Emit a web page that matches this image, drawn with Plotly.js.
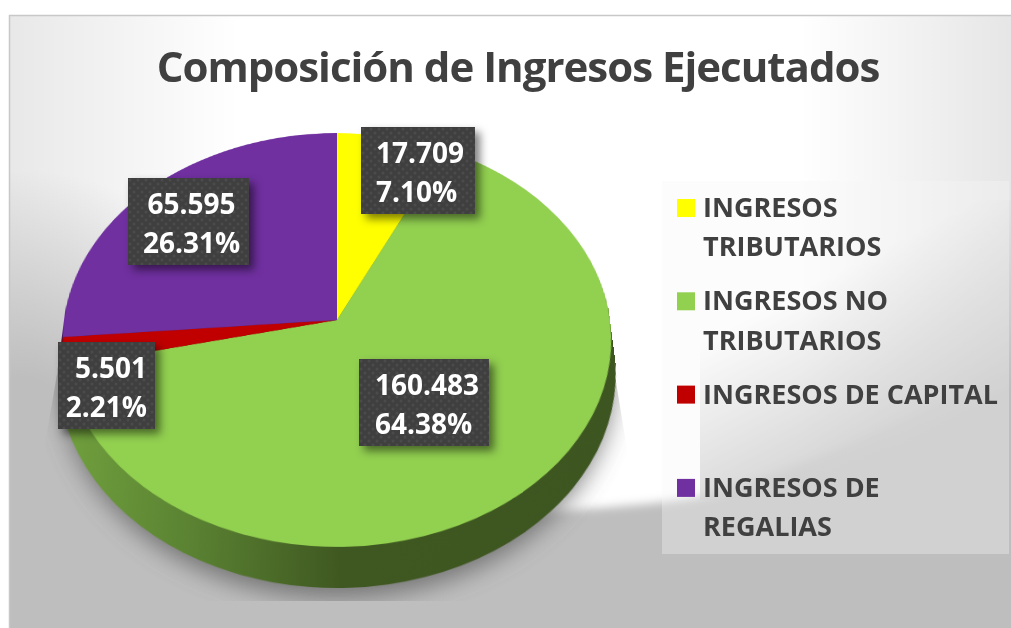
<!DOCTYPE html>
<html>
<head>
<meta charset="utf-8">
<script src="https://cdn.plot.ly/plotly-3.0.1.min.js"></script>
<style>
html,body{margin:0;padding:0;width:1011px;height:628px;overflow:hidden;background:#fff}
#stage{position:relative;width:1011px;height:628px;overflow:hidden}
#bg,#pie3d{position:absolute;left:0;top:0}
#chart{position:absolute;left:0;top:0;width:1011px;height:628px}
.annotation{filter:drop-shadow(5px 5px 4px rgba(0,0,0,.5))}
.gtitle{letter-spacing:-1px}
</style>
</head>
<body>
<div id="stage">
<svg id="bg" width="1011" height="628">
  <defs>
    <filter id="b6" x="-20%" y="-20%" width="140%" height="140%"><feGaussianBlur stdDeviation="5"/></filter>
    <filter id="b10" x="-20%" y="-20%" width="140%" height="140%"><feGaussianBlur stdDeviation="12"/></filter>
    <clipPath id="frame"><rect x="10" y="16" width="1001" height="612"/></clipPath>
    <clipPath id="shadowClip"><polygon points="62,345 44,450 44,601 632,601 632,480 610,345"/></clipPath>
    <linearGradient id="leftG" x1="0" x2="1" y1="0" y2="0">
      <stop offset="0" stop-color="#e8e8e8"/><stop offset="1" stop-color="#e8e8e8" stop-opacity="0"/>
    </linearGradient>
    <radialGradient id="leftR" gradientUnits="userSpaceOnUse" cx="20" cy="430" r="260">
      <stop offset="0.2" stop-color="#bebebe"/><stop offset="1" stop-color="#bebebe" stop-opacity="0"/>
    </radialGradient>
    <linearGradient id="rightH" gradientUnits="userSpaceOnUse" x1="800" y1="0" x2="1011" y2="0">
      <stop offset="0" stop-color="#e6e6e6" stop-opacity="0"/><stop offset="1" stop-color="#e6e6e6"/>
    </linearGradient>
    <linearGradient id="rightG" gradientUnits="userSpaceOnUse" x1="880" y1="250" x2="965" y2="415">
      <stop offset="0" stop-color="#bebebe" stop-opacity="0"/><stop offset="1" stop-color="#bebebe"/>
    </linearGradient>
    <linearGradient id="rim" x1="0" x2="1" y1="0" y2="0">
      <stop offset="0" stop-color="#72a23e"/><stop offset="0.25" stop-color="#5a8232"/><stop offset="0.5" stop-color="#3f5821"/><stop offset="1" stop-color="#3d5520"/>
    </linearGradient>
    <pattern id="dots" patternUnits="userSpaceOnUse" width="8" height="8">
      <rect width="8" height="8" fill="#3f3f3f"/>
      <circle cx="2" cy="2" r="1.5" fill="#4b4b4b"/><circle cx="6" cy="6" r="1.5" fill="#4b4b4b"/>
    </pattern>
  </defs>
  <g clip-path="url(#frame)">
    <rect x="9" y="15" width="1002" height="613" fill="#bebebe"/>
    <path d="M-60,-60 H1100 V300 C980,390 860,450 720,492 C680,502 620,507 540,512 L200,500 L100,440 L-30,400 Z" fill="#fff" filter="url(#b6)"/>
    <rect x="9" y="15" width="230" height="420" fill="url(#leftG)"/>
    <rect x="9" y="170" width="270" height="300" fill="url(#leftR)"/>
    <rect x="800" y="15" width="211" height="470" fill="url(#rightH)"/>
    <rect x="700" y="200" width="311" height="300" fill="url(#rightG)"/>
    <g clip-path="url(#shadowClip)">
      <ellipse cx="337" cy="376" rx="278" ry="222" fill="#555" opacity="0.7" filter="url(#b10)"/>
    </g>
  </g>
  <rect x="9.5" y="15.5" width="1003" height="620" fill="none" stroke="#c8c8c8" stroke-width="1.5"/>
</svg>
<div id="chart"></div>
</div>
<script>
var chartTitle = "Composición de Ingresos Ejecutados";
var categories = ["INGRESOS<br>TRIBUTARIOS", "INGRESOS NO<br>TRIBUTARIOS", "INGRESOS DE CAPITAL", "INGRESOS DE<br>REGALIAS"];
var values = [17.709, 160.483, 5.501, 65.595];
var colors = ["#ffff00", "#92d050", "#c00000", "#7030a0"];
var rimColors = ["#8f8f00", "#3f5821", "#6e0000", "#3e1a5a"];
var labelAlign = ["left", "left", "right", "center"];

var W = 1011, H = 628;
var cx = 337, cy = 290, R = 273, layers = 22, step = 2;
var total = values.reduce(function (a, b) { return a + b; }, 0);

function pieTrace(dy, cols, legend) {
  return {
    type: "pie", values: values, labels: categories, sort: false, direction: "clockwise", rotation: 0,
    textinfo: "none", hoverinfo: "label+value+percent", showlegend: legend,
    marker: { colors: cols, line: { width: 0 } },
    domain: { x: [(cx - R) / W, (cx + R) / W], y: [1 - (cy + dy + R) / H, 1 - (cy + dy - R) / H] }
  };
}
var traces = [];
for (var i = layers; i >= 1; i--) traces.push(pieTrace(i * step, rimColors, false));
traces.push(pieTrace(0, colors, true));

var boxes = [[361, 127, 114, 87, 15], [359, 359, 130, 87, 16], [58, 342, 97, 87, -8], [128, 178, 121, 87, 3]];
var annotations = values.map(function (v, i) {
  var b = boxes[i];
  return {
    xref: "paper", yref: "paper", x: b[0] / W, y: 1 - b[1] / H, xanchor: "left", yanchor: "top",
    width: b[2], height: b[3], borderpad: 0, borderwidth: 0, showarrow: false, align: labelAlign[i], valign: "middle",
    bgcolor: "#3f3f3f",
    text: v.toFixed(3) + "<br>" + (v / total * 100).toFixed(2) + "%",
    font: { family: "Open Sans", size: 28, color: "#ffffff", weight: 700 }
  };
});

var layout = {
  width: W, height: H, margin: { l: 0, r: 0, t: 0, b: 0 },
  paper_bgcolor: "rgba(0,0,0,0)", plot_bgcolor: "rgba(0,0,0,0)",
  title: { text: chartTitle, x: 518 / W, xanchor: "center", y: 1 - 67 / H, yanchor: "middle",
           font: { family: "Open Sans", size: 42, color: "#404040", weight: 700 } },
  legend: { x: 662 / W, y: 1 - 181 / H, xanchor: "left", yanchor: "top", bgcolor: "rgba(0,0,0,0)", borderwidth: 0,
            font: { family: "Open Sans", size: 27, color: "#404040", weight: 700 } },
  annotations: annotations,
  shapes: [{ type: "rect", xref: "paper", yref: "paper", x0: 662 / W, x1: 1009 / W, y0: 1 - 181 / H, y1: 1 - 554 / H,
             fillcolor: "rgba(245,245,245,0.35)", line: { width: 0 }, layer: "below" }]
};

Plotly.newPlot("chart", traces, layout, { displayModeBar: false, responsive: false }).then(function () {
  var gd = document.getElementById("chart");
  // tilt the pie layer with a true perspective projection, as the reference's 3-D pie
  var ns = "http://www.w3.org/2000/svg";
  var tilted = document.createElementNS(ns, "svg");
  tilted.setAttribute("id", "pie3d");
  tilted.setAttribute("width", W); tilted.setAttribute("height", H);
  tilted.style.overflow = "visible";
  tilted.style.transformOrigin = cx + "px " + cy + "px";
  tilted.style.transform = "translateY(30px) perspective(1868px) rotateX(41.35deg)";
  var pl = gd.querySelector(".pielayer");
  tilted.appendChild(pl);
  var sc = gd.querySelector(".svg-container");
  sc.insertBefore(tilted, sc.firstChild);
  var traceGroups = pl.querySelectorAll("g.trace");
  traceGroups.forEach(function (t, k) {
    if (k < traceGroups.length - 1) {
      var sl = t.querySelectorAll("g.slice path.surface");
      if (sl[1]) sl[1].style.fill = "url(#rim)";
    }
  });
  // value boxes: dotted fill, inner offsets and reference line pitch
  gd.querySelectorAll(".annotation").forEach(function (a, i) {
    var r = a.querySelector("rect.bg"); if (r) r.style.fill = "url(#dots)";
    var t = a.querySelector("text.annotation-text");
    if (t) {
      t.setAttribute("transform", "translate(" + boxes[i][4] + ",-0.5)");
      var ls = t.querySelectorAll("tspan.line");
      if (ls[1]) ls[1].setAttribute("dy", "39px");
    }
  });
  // legend: reference spacing
  var pitch = 39.3, itemGap = 93.3, firstLine = 27, symX = 24, baseline = 9, textX = 41;
  var leg = gd.querySelector(".legend");
  leg.querySelectorAll("[clip-path]").forEach(function (n) { n.removeAttribute("clip-path"); });
  leg.querySelectorAll(".traces").forEach(function (g, i) {
    g.setAttribute("transform", "translate(0," + (firstLine + i * itemGap) + ")");
    var p = g.querySelector("path.legendpie");
    if (p) { p.setAttribute("d", "M9,9V-9H-9V9Z"); p.setAttribute("transform", "translate(" + symX + ",0)"); }
    var txt = g.querySelector("text.legendtext");
    txt.setAttribute("x", textX); txt.setAttribute("y", baseline);
    txt.querySelectorAll("tspan.line").forEach(function (ln, j) {
      ln.removeAttribute("dy");
      ln.setAttribute("x", textX); ln.setAttribute("y", baseline + j * pitch);
    });
  });
});
</script>
</body>
</html>
